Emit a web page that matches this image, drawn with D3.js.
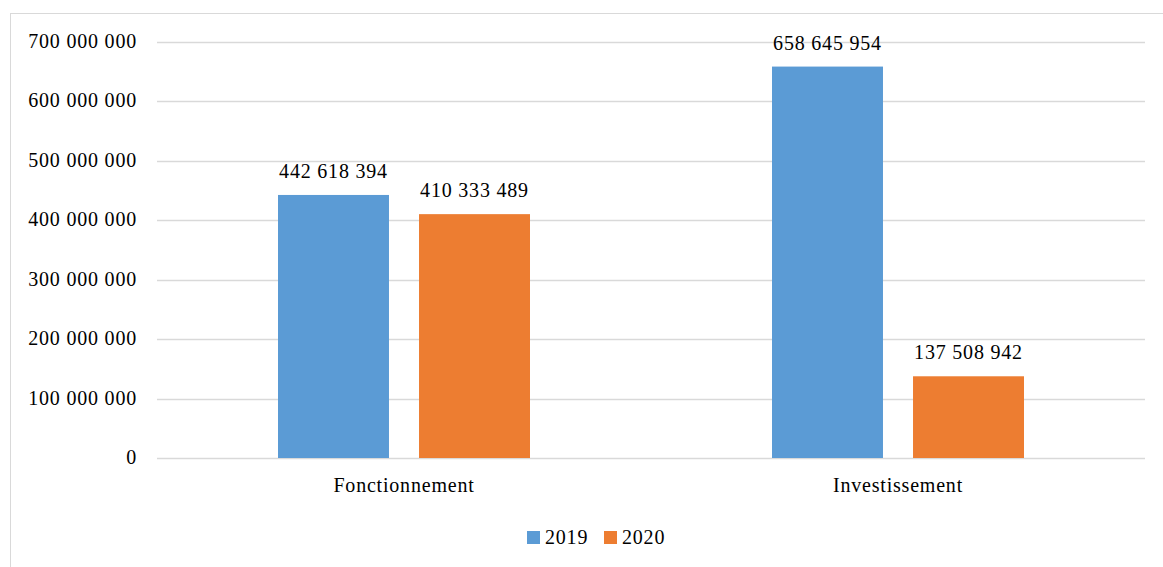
<!DOCTYPE html>
<html>
<head>
<meta charset="utf-8">
<script src="https://cdnjs.cloudflare.com/ajax/libs/d3/7.8.5/d3.min.js"></script>
<style>
  html, body { margin: 0; padding: 0; background: #fff; }
  svg text { font-family: "Liberation Serif", "Times New Roman", serif; fill: #000; font-size: 20px; letter-spacing: 0.8px; }
</style>
</head>
<body>
<svg id="chart" width="1163" height="567"></svg>
<script>
// données du graphique
const categories = ['Fonctionnement', 'Investissement'];
const series = ['2019', '2020'];
const values2019 = [442618394, 658645954];
const values2020 = [410333489, 137508942];
const yTicks = [0, 100000000, 200000000, 300000000, 400000000, 500000000, 600000000, 700000000];
const colors = ['#5B9BD5', '#ED7D31'];

const seriesValues = [values2019, values2020];

const svg = d3.select('#chart');

// cadre du graphique
svg.append('rect')
    .attr('x', 10.5).attr('y', 13.5)
    .attr('width', 1170).attr('height', 570)
    .attr('fill', 'none')
    .attr('stroke', '#d9d9d9');

const plot = { left: 157, right: 1145, top: 42, bottom: 458 };

const y = d3.scaleLinear()
    .domain([0, 700000000])
    .range([plot.bottom, plot.top]);

const x0 = d3.scaleBand()
    .domain(categories)
    .range([plot.left, plot.right])
    .padding(0);

const inset = 121;
const x1 = d3.scaleBand()
    .domain(series)
    .range([inset, x0.bandwidth() - inset])
    .paddingInner(0.213)
    .paddingOuter(0);

const fmt = v => d3.format(',')(v).replace(/,/g, ' ');

// quadrillage
svg.append('g')
    .selectAll('line')
    .data(yTicks)
    .join('line')
    .attr('x1', plot.left).attr('x2', plot.right)
    .attr('y1', d => Math.round(y(d)) + 0.5)
    .attr('y2', d => Math.round(y(d)) + 0.5)
    .attr('stroke', '#d9d9d9')
    .attr('stroke-width', 1.3);

// étiquettes de l'axe Y
svg.append('g')
    .selectAll('text')
    .data(yTicks)
    .join('text')
    .attr('x', 137)
    .attr('y', d => y(d) + 6)
    .attr('text-anchor', 'end')
    .text(d => fmt(d));

// barres
const groups = svg.append('g')
    .selectAll('g')
    .data(categories)
    .join('g')
    .attr('transform', d => `translate(${x0(d)},0)`);

groups.selectAll('rect')
    .data((c, i) => series.map((s, j) => ({ s, j, v: seriesValues[j][i] })))
    .join('rect')
    .attr('x', d => x1(d.s))
    .attr('y', d => y(d.v))
    .attr('width', x1.bandwidth())
    .attr('height', d => plot.bottom - y(d.v))
    .attr('fill', d => colors[d.j]);

groups.selectAll('text')
    .data((c, i) => series.map((s, j) => ({ s, j, v: seriesValues[j][i] })))
    .join('text')
    .attr('x', d => x1(d.s) + x1.bandwidth() / 2)
    .attr('y', d => y(d.v) - 17)
    .attr('text-anchor', 'middle')
    .text(d => fmt(d.v));

// étiquettes des catégories
svg.append('g')
    .selectAll('text')
    .data(categories)
    .join('text')
    .attr('x', d => x0(d) + x0.bandwidth() / 2)
    .attr('y', 492)
    .attr('text-anchor', 'middle')
    .text(d => d);

// légende
const legend = svg.append('g');
const legendX = [527, 604];
series.forEach((s, j) => {
    legend.append('rect')
        .attr('x', legendX[j]).attr('y', 531)
        .attr('width', 13).attr('height', 13)
        .attr('fill', colors[j]);
    legend.append('text')
        .attr('x', legendX[j] + 18)
        .attr('y', 544)
        .text(s);
});
</script>
</body>
</html>
